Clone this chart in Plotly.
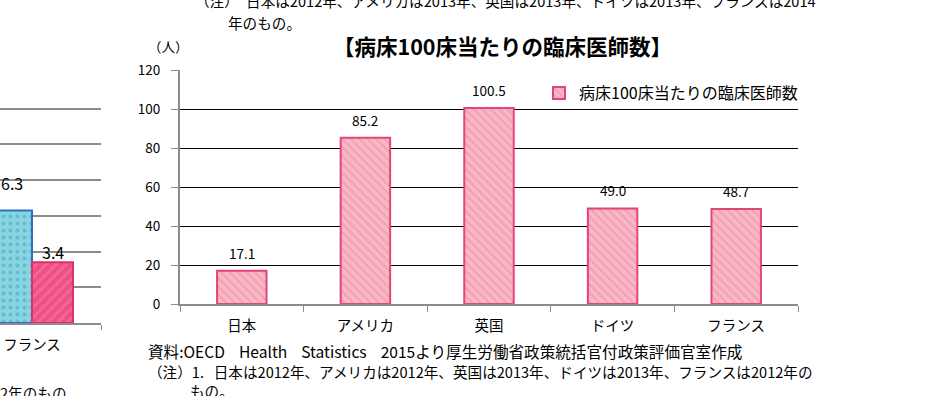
import plotly.graph_objects as go

W, H = 938, 396

# ---- data: main chart ----
categories = ["日本", "アメリカ", "英国", "ドイツ", "フランス"]
doctors_per_100_beds = [17.1, 85.2, 100.5, 49.0, 48.7]
series_name = "病床100床当たりの臨床医師数"
y_ticks = [0, 20, 40, 60, 80, 100, 120]

# ---- data: partially visible neighbour chart (left) ----
left_categories = ["フランス"]
left_series_a = [6.3]
left_series_b = [3.4]

title_text = "【病床100床当たりの臨床医師数】"
unit_text = "（人）"
top_note_1 = "（注）\u3000日本は2012年、アメリカは2013年、英国は2013年、ドイツは2013年、フランスは2014"
top_note_2 = "年のもの。"
left_note = "2年のもの"
SP = "\u00a0\u00a0\u00a0\u00a0"
source_text = f"資料:OECD{SP}Health{SP}Statistics{SP}2015より厚生労働省政策統括官付政策評価官室作成"
note_1 = "（注）1.\u00a0\u00a0\u00a0日本は2012年、アメリカは2012年、英国は2013年、ドイツは2013年、フランスは2012年の"
note_2 = "もの。"

FONT = "Noto Sans CJK JP, Liberation Sans, sans-serif"

def px(x):
    return x / W

def py(y):
    return 1 - y / H

fig = go.Figure()

# main bars
fig.add_trace(go.Bar(
    x=categories, y=doctors_per_100_beds, name=series_name,
    width=0.4,
    marker=dict(color="#F7AABB",
                line=dict(color="#E2457A", width=2),
                pattern=dict(shape="\\", fgcolor="#EE86A2", bgcolor="#F9B8C6", size=6, solidity=0.35)),
    xaxis="x", yaxis="y", showlegend=True,
))

# left partial chart bars
fig.add_trace(go.Bar(
    x=left_categories, y=left_series_a, width=0.297, offset=-0.297,
    marker=dict(color="#7FD0DE",
                line=dict(color="#2F6FBF", width=2),
                pattern=dict(shape=".", fgcolor="#4A9FC0", bgcolor="#86D5E2", size=7, solidity=0.25)),
    xaxis="x2", yaxis="y2", showlegend=False,
))
fig.add_trace(go.Bar(
    x=left_categories, y=left_series_b, width=0.297, offset=0,
    marker=dict(color="#F0558C",
                line=dict(color="#E0306C", width=2),
                pattern=dict(shape="/", fgcolor="#F5839F", bgcolor="#EE4F86", size=7, solidity=0.4)),
    xaxis="x2", yaxis="y2", showlegend=False,
))

annotations = []
# value labels main
for c, v in zip(categories, doctors_per_100_beds):
    annotations.append(dict(x=c, y=v, xref="x", yref="y", text=f"{v:.1f}",
                            showarrow=False, yanchor="bottom", yshift=6,
                            font=dict(size=13.5, color="#000", family=FONT)))
# value labels left
for xv, v, shift in [(-0.1485, left_series_a[0], 14), (0.1485, left_series_b[0], -4)]:
    annotations.append(dict(x=xv, y=v, xref="x2", yref="y2", text=f"{v:.1f}",
                            showarrow=False, yanchor="bottom", yshift=shift,
                            font=dict(size=16, color="#000", family=FONT)))

def note(text, x, y, size=14.6, bold=False, anchor="left"):
    annotations.append(dict(x=px(x), y=py(y), xref="paper", yref="paper",
                            text=f"<b>{text}</b>" if bold else text,
                            showarrow=False, xanchor=anchor, yanchor="middle",
                            font=dict(size=size, color="#000", family=FONT)))

note(top_note_1, 193, 1)
note(top_note_2, 226, 22)
note(unit_text, 168, 46, size=13.5, anchor="center")
note(title_text, 502, 45, size=21.5, bold=True, anchor="center")
note(source_text, 146, 351, size=15.6)
note(note_1, 146, 371, size=14.6)
note(note_2, 188, 390, size=14.6)
note(left_note, -2, 392)

fig.update_layout(
    width=W, height=H,
    margin=dict(l=0, r=0, t=0, b=0, autoexpand=False),
    paper_bgcolor="white", plot_bgcolor="white",
    barmode="overlay",
    font=dict(family=FONT, color="#000"),
    annotations=annotations,
    legend=dict(x=px(539), y=py(93), xanchor="left", yanchor="middle",
                bgcolor="rgba(0,0,0,0)", font=dict(size=16, family=FONT),
                itemwidth=30),
    xaxis=dict(domain=[px(180), px(798)], type="category", automargin=False,
               categoryorder="array", categoryarray=categories,
               range=[-0.5, 4.5],
               showline=True, linecolor="#8C8C8C", linewidth=1.5,
               ticks="outside", tickson="boundaries", ticklen=6, tickcolor="#8C8C8C",
               ticklabelstandoff=8,
               tickfont=dict(size=14.5, family=FONT), showgrid=False),
    yaxis=dict(domain=[py(304), py(70)], range=[0, 120], tickvals=y_ticks, automargin=False,
               showline=True, linecolor="#8C8C8C", linewidth=2,
               ticks="outside", ticklen=7, tickcolor="#8C8C8C",
               gridcolor="#000000", gridwidth=1, zeroline=False,
               tickfont=dict(size=13.5, family=FONT), ticklabelstandoff=8),
    xaxis2=dict(domain=[0, px(101)], type="category", range=[-0.232, 0.5], automargin=False,
                showline=True, linecolor="#8C8C8C", linewidth=1.5,
                ticks="outside", tickson="boundaries", ticklen=5, tickcolor="#8C8C8C",
                ticklabelstandoff=8,
                tickfont=dict(size=14.5, family=FONT), showgrid=False, anchor="y2"),
    yaxis2=dict(domain=[py(323), py(73)], range=[0, 14], dtick=2, automargin=False,
                showticklabels=False, showline=False, ticks="",
                gridcolor="#8C8C8C", gridwidth=1.5, zeroline=False, anchor="x2"),
)

fig.write_html("out.html")
